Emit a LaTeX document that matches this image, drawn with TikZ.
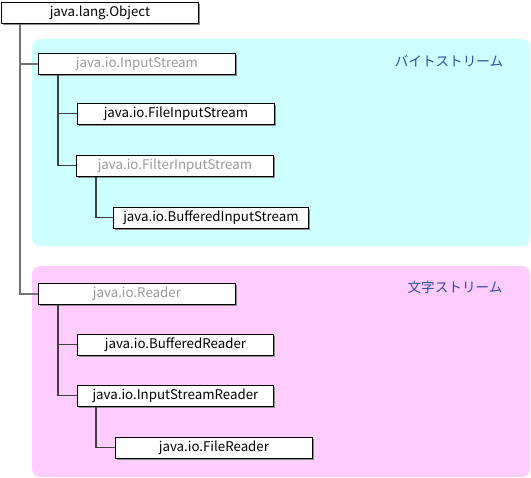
\documentclass[tikz,border=0pt]{standalone}
\usepackage{fontspec}
\setmainfont{Noto Sans CJK JP}
\usetikzlibrary{shadows}
\definecolor{cyanbg}{HTML}{CCFFFF}
\definecolor{pinkbg}{HTML}{FFCCFF}
\definecolor{grouplbl}{HTML}{2A4CA6}
\definecolor{abstxt}{HTML}{9A9A9A}
\tikzset{
  cls/.style={draw=black, line width=0.9pt, fill=white, anchor=north west,
    minimum height=21pt, inner sep=0pt, font=\fontsize{13.3}{15}\selectfont,
    drop shadow={shadow xshift=1.6pt, shadow yshift=-1.6pt, fill=black!45, opacity=1}},
  abstract/.style={cls, text=abstxt},
  region/.style={rounded corners=8pt, draw=none},
  grp/.style={text=grouplbl, font=\fontsize{13.6}{15}\selectfont},
  trunk/.style={draw=black!75, line width=1.1pt},
  maintrunk/.style={draw=black!55, line width=1.5pt},
}
\begin{document}
\begin{tikzpicture}[x=1pt,y=-1pt]
\useasboundingbox (0,0) rectangle (531,478);
\fill[white] (0,0) rectangle (531,478);
% regions
\fill[region, cyanbg] (32,39) rectangle (530,246);
\fill[region, pinkbg] (32,266) rectangle (530,477);
\node[grp] (lblbyte) at (449,61) {バイトストリーム};
\node[grp] (lblchar) at (455,287) {文字ストリーム};
% classes
\node[cls, minimum width=197pt] (obj) at (1,2) {java.lang.Object};
\node[abstract, minimum width=197pt] (is) at (38,53) {java.io.InputStream};
\node[cls, minimum width=197pt] (fis) at (77,103) {java.io.FileInputStream};
\node[abstract, minimum width=197pt] (filt) at (76,155) {java.io.FilterInputStream};
\node[cls, minimum width=195pt] (bis) at (113,207) {java.io.BufferedInputStream};
\node[abstract, minimum width=197pt] (rd) at (38,283) {java.io.Reader};
\node[cls, minimum width=196pt] (br) at (77,334) {java.io.BufferedReader};
\node[cls, minimum width=196pt] (isr) at (77,385) {java.io.InputStreamReader};
\node[cls, minimum width=197pt] (fr) at (115,437) {java.io.FileReader};
% connectors
\draw[maintrunk] ([xshift=19pt]obj.south west) |- (is.west);
\draw[maintrunk] ([xshift=19pt]obj.south west) |- (rd.west);
\draw[trunk] ([xshift=20pt]is.south west) |- (fis.west);
\draw[trunk] ([xshift=20pt]is.south west) |- (filt.west);
\draw[trunk] ([xshift=20pt]filt.south west) |- (bis.west);
\draw[trunk] ([xshift=20pt]rd.south west) |- (br.west);
\draw[trunk] ([xshift=20pt]rd.south west) |- (isr.west);
\draw[trunk] ([xshift=19pt]isr.south west) |- (fr.west);
\end{tikzpicture}
\end{document}
